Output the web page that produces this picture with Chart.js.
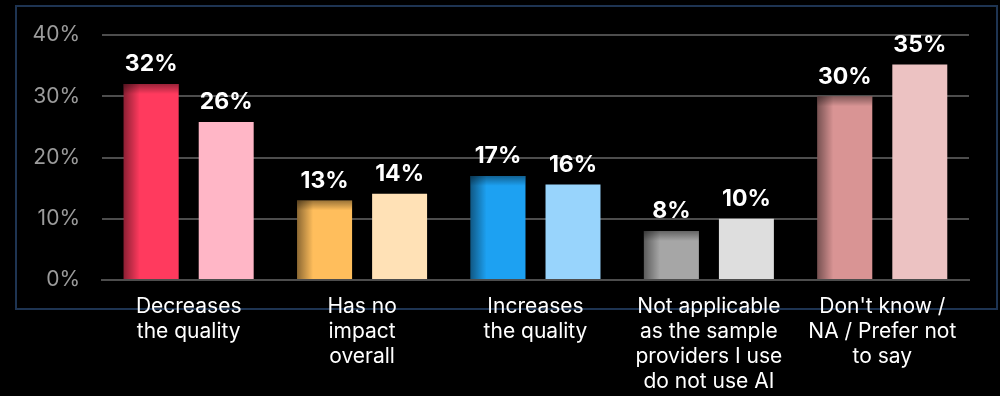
<!DOCTYPE html>
<html><head><meta charset="utf-8">
<script src="https://cdn.jsdelivr.net/npm/chart.js@4/dist/chart.umd.min.js"></script>
<style>html,body{margin:0;padding:0;background:#000;}#wrap{width:1000px;height:396px;position:relative;}</style>
</head><body><div id="wrap"><canvas id="c" width="1000" height="396"></canvas></div>
<script>
const categories = [
  ["Decreases","the quality"],
  ["Has no","impact","overall"],
  ["Increases","the quality"],
  ["Not applicable","as the sample","providers I use","do not use AI"],
  ["Don't know /","NA / Prefer not","to say"]
];
const seriesA = [32, 13, 17, 8, 30];
const seriesB = [25.8, 14.1, 15.6, 10, 35.2];
const colorsA = ["#FF3A5E", "#FFBE5C", "#1DA1F2", "#A6A6A6", "#D99494"];
const colorsB = ["#FFB6C6", "#FFE1B6", "#98D4FC", "#DEDEDE", "#ECC2C2"];
const yTicks = [0, 10, 20, 30, 40];

const FONT = "Inter, 'Open Sans', sans-serif";

const framePlugin = {
  id: 'frame',
  beforeDraw(chart) {
    const ctx = chart.ctx;
    ctx.save();
    ctx.fillStyle = '#000';
    ctx.fillRect(0, 0, chart.width, chart.height);
    ctx.strokeStyle = '#1E3452';
    ctx.lineWidth = 2;
    ctx.strokeRect(16, 6, 981, 303);
    ctx.restore();
  }
};

const shadePlugin = {
  id: 'shade',
  afterDatasetsDraw(chart) {
    const ctx = chart.ctx;
    const meta = chart.getDatasetMeta(0);
    ctx.save();
    meta.data.forEach(bar => {
      const p = bar.getProps(['x','y','base','width'], true);
      const l = p.x - p.width / 2, r = p.x + p.width / 2;
      const t = p.y, b = p.base;
      let g = ctx.createLinearGradient(l, 0, l + 16, 0);
      g.addColorStop(0, 'rgba(0,0,0,0.45)');
      g.addColorStop(1, 'rgba(0,0,0,0)');
      ctx.fillStyle = g;
      ctx.fillRect(l, t, 16, b - t);
      g = ctx.createLinearGradient(0, t, 0, t + 10);
      g.addColorStop(0, 'rgba(0,0,0,0.4)');
      g.addColorStop(1, 'rgba(0,0,0,0)');
      ctx.fillStyle = g;
      ctx.fillRect(l, t, r - l, Math.min(10, b - t));
    });
    ctx.restore();
  }
};

const labelPlugin = {
  id: 'vlabels',
  afterDatasetsDraw(chart) {
    const ctx = chart.ctx;
    ctx.save();
    ctx.fillStyle = '#fff';
    ctx.font = "bold 23px " + FONT;
    ctx.textAlign = 'center';
    ctx.textBaseline = 'bottom';
    chart.data.datasets.forEach((ds, di) => {
      chart.getDatasetMeta(di).data.forEach((bar, i) => {
        ctx.fillText(Math.round(ds.data[i]) + '%', bar.x, bar.y - 8);
      });
    });
    ctx.restore();
  }
};

new Chart(document.getElementById('c'), {
  type: 'bar',
  data: {
    labels: categories,
    datasets: [
      { data: seriesA, backgroundColor: colorsA, categoryPercentage: 0.865, barPercentage: 0.733 },
      { data: seriesB, backgroundColor: colorsB, categoryPercentage: 0.865, barPercentage: 0.733 }
    ]
  },
  options: {
    responsive: false,
    animation: false,
    layout: { padding: { left: 0, right: 31, top: 35, bottom: 0 } },
    plugins: { legend: { display: false }, tooltip: { enabled: false } },
    scales: {
      x: {
        grid: { display: false, drawTicks: false },
        border: { display: true, color: '#4D4D4D', width: 2 },
        ticks: { color: '#fff', font: { family: FONT, size: 21, lineHeight: '25px' }, padding: 14, maxRotation: 0, autoSkip: false },
        afterFit(s) { s.height = 116; }
      },
      y: {
        min: 0, max: 40,
        afterBuildTicks(s) { s.ticks = yTicks.map(v => ({ value: v })); },
        grid: { color: '#4D4D4D', lineWidth: 2, drawTicks: false },
        border: { display: false },
        ticks: { color: '#9C9C9C', font: { family: FONT, size: 21 }, padding: 22, callback: v => v + '%' },
        afterFit(s) { s.width = 102; }
      }
    }
  },
  plugins: [framePlugin, shadePlugin, labelPlugin]
});
</script></body></html>
